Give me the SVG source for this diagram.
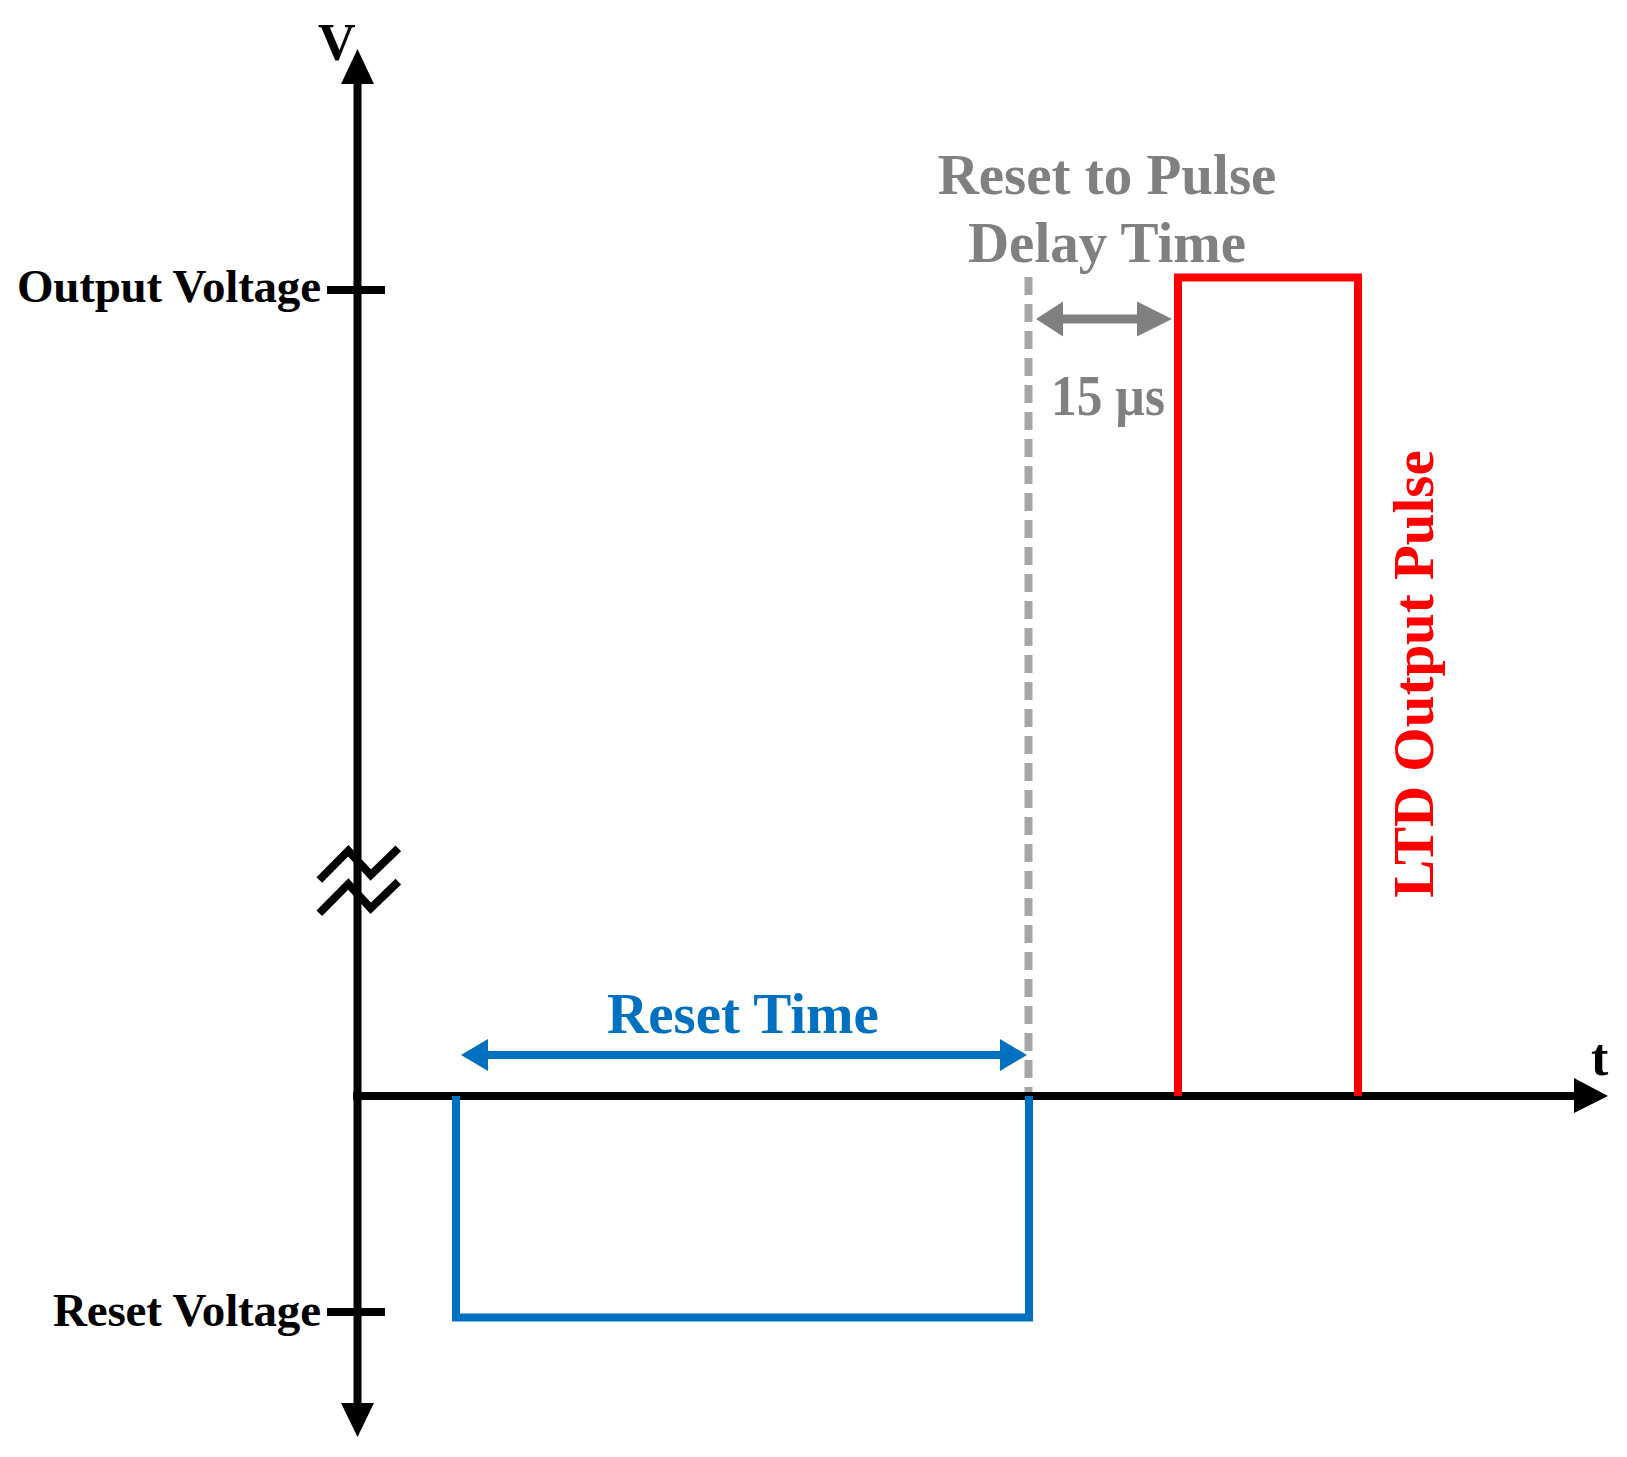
<svg xmlns="http://www.w3.org/2000/svg" width="1627" height="1457" viewBox="0 0 1627 1457">
<style>
text{font-family:"Liberation Serif","Times New Roman",serif;font-weight:bold}
.ax{stroke:#000;stroke-width:8;fill:none}
.lbl{font-size:47px;fill:#000}
.gray{fill:#808080;font-size:57px}
</style>
<rect width="1627" height="1457" fill="#fff"/>
<g id="axes">
<line class="ax" x1="357.5" y1="80" x2="357.5" y2="1406"/>
<polygon points="357.5,49 341,84 374,84" fill="#000"/>
<polygon points="357.5,1437 341,1403 374,1403" fill="#000"/>
<line class="ax" x1="353" y1="1096" x2="1578" y2="1096"/>
<polygon points="1608,1096 1574,1078 1574,1113" fill="#000"/>
<line class="ax" x1="327" y1="290" x2="385" y2="290"/>
<line class="ax" x1="327" y1="1312" x2="385" y2="1312"/>
<polyline class="ax" points="319.3,880 348.3,850.7 370.7,875 398.3,848.3"/>
<polyline class="ax" points="319.3,913.3 348.3,884 370.7,908.3 398.3,881.7"/>
<text x="318" y="60" font-size="52">V</text>
<text x="1591" y="1075" font-size="52">t</text>
<text class="lbl" x="321" y="302" text-anchor="end" textLength="304">Output Voltage</text>
<text class="lbl" x="321" y="1326" text-anchor="end" textLength="268">Reset Voltage</text>
</g>
<g id="reset-pulse">
<polyline points="456,1096 456,1317.5 1029,1317.5 1029,1096" fill="none" stroke="#0070C0" stroke-width="8"/>
</g>
<g id="ltd-pulse">
<polyline points="1178,1096 1178,277.5 1358,277.5 1358,1096" fill="none" stroke="#FF0000" stroke-width="8"/>
<text transform="translate(1433,674) rotate(-90)" text-anchor="middle" font-size="57" fill="#FF0000">LTD Output Pulse</text>
</g>
<g id="connectors">
<line x1="1028.5" y1="277" x2="1028.5" y2="1092" stroke="#A6A6A6" stroke-width="8" stroke-dasharray="18,9"/>
<line x1="1060" y1="319" x2="1140" y2="319" stroke="#808080" stroke-width="9"/>
<polygon points="1036,319 1063,301.5 1063,336.5" fill="#808080"/>
<polygon points="1172,319 1137,301.5 1137,336.5" fill="#808080"/>
<line x1="485" y1="1055" x2="1000" y2="1055" stroke="#0070C0" stroke-width="8"/>
<polygon points="461,1055 488,1039 488,1071" fill="#0070C0"/>
<polygon points="1027,1055 1000,1039 1000,1071" fill="#0070C0"/>
</g>
<g id="labels">
<text class="gray" x="1107" y="194" text-anchor="middle">Reset to Pulse</text>
<text class="gray" x="1107" y="262" text-anchor="middle">Delay Time</text>
<text class="gray" x="1051" y="415" font-size="48" textLength="114" lengthAdjust="spacingAndGlyphs">15 µs</text>
<text x="743" y="1033" text-anchor="middle" font-size="57" fill="#0070C0">Reset Time</text>
</g>
</svg>
